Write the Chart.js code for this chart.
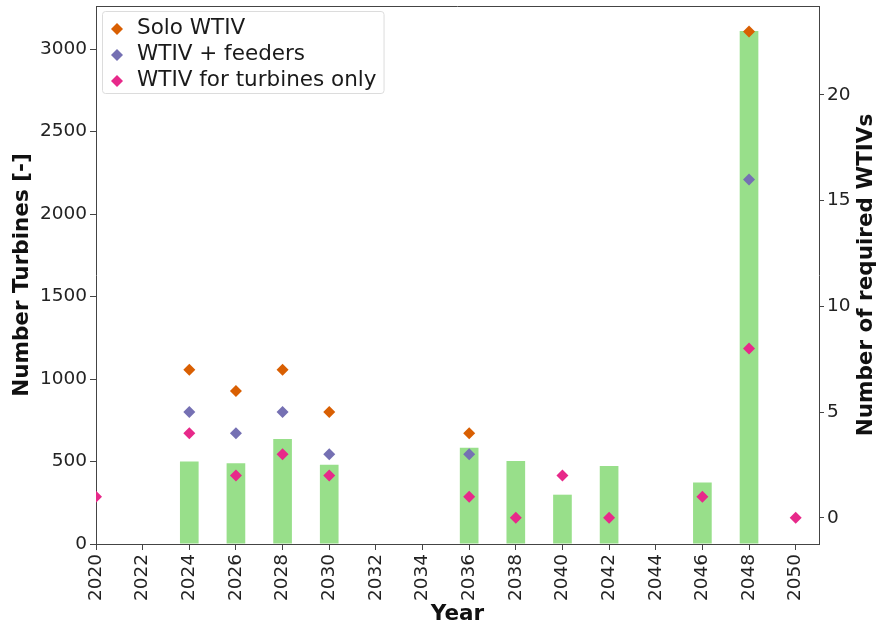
<!DOCTYPE html>
<html>
<head>
<meta charset="utf-8">
<script src="https://cdn.jsdelivr.net/npm/chart.js@4.4.1/dist/chart.umd.min.js"></script>
<style>
  html, body { margin: 0; padding: 0; background: #fff; }
  canvas { display: block; }
</style>
</head>
<body>
<canvas id="c" width="876" height="627"></canvas>
<script>
// Installed turbines per year (bars, left axis)
const barYears = [2024, 2026, 2028, 2030, 2036, 2038, 2040, 2042, 2046, 2048];
const turbines = [500, 490, 637, 481, 584, 503, 299, 473, 373, 3110];

// Required installation vessels per strategy (diamonds, right axis)
const soloYears = [2024, 2026, 2028, 2030, 2036, 2048];
const soloWtiv = [7, 6, 7, 5, 4, 23];
const feederYears = [2024, 2026, 2028, 2030, 2036, 2048];
const wtivFeeders = [5, 4, 5, 3, 3, 16];
const turbineOnlyYears = [2020, 2024, 2026, 2028, 2030, 2036, 2038, 2040, 2042, 2046, 2048, 2050];
const wtivTurbinesOnly = [1, 4, 2, 3, 2, 1, 0, 2, 0, 1, 8, 0];

// Tick labels
const yearTicks = [2020, 2022, 2024, 2026, 2028, 2030, 2032, 2034, 2036, 2038, 2040, 2042, 2044, 2046, 2048, 2050];
const turbineTicks = [0, 500, 1000, 1500, 2000, 2500, 3000];
const vesselTicks = [0, 5, 10, 15, 20];

const seriesNames = ['Solo WTIV', 'WTIV + feeders', 'WTIV for turbines only'];
const seriesColors = ['#d95f02', '#7570b3', '#e7298a'];
const barColor = '#98df8a';
const rightTitle = 'Number of required WTIVs';
const FONT = '"DejaVu Sans", "Liberation Sans", sans-serif';
const TICK_SIZE = 18.5;
const LABEL_SIZE = 21.5;

Chart.defaults.font.family = FONT;
Chart.defaults.font.size = TICK_SIZE;
Chart.defaults.color = '#222';

const pairs = (xs, ys) => xs.map((x, i) => ({ x: x, y: ys[i] }));

// Frame top edge, right-hand axis title and the in-plot legend
const decorations = {
  id: 'decorations',
  afterDraw(chart) {
    const { ctx, chartArea: a } = chart;
    ctx.save();
    ctx.strokeStyle = '#444';
    ctx.lineWidth = 1;
    ctx.beginPath();
    ctx.moveTo(a.left, a.top + 0.5);
    ctx.lineTo(a.right, a.top + 0.5);
    ctx.stroke();

    // axis title on the right, reading upward
    ctx.save();
    ctx.font = 'bold ' + LABEL_SIZE + 'px ' + FONT;
    ctx.fillStyle = '#111';
    ctx.translate(chart.width - 10, (a.top + a.bottom) / 2);
    ctx.rotate(-Math.PI / 2);
    ctx.textAlign = 'center';
    ctx.textBaseline = 'middle';
    ctx.fillText(rightTitle, 0, 0);
    ctx.restore();

    // legend box
    const scatterSets = chart.data.datasets.filter(d => d.type === 'scatter');
    ctx.font = LABEL_SIZE + 'px ' + FONT;
    const textW = Math.max(...scatterSets.map(d => ctx.measureText(d.label).width));
    const bx = a.left + 6, by = a.top + 5;
    const bw = 35 + textW + 7, bh = 82;
    ctx.beginPath();
    ctx.roundRect(bx + 0.5, by + 0.5, bw, bh, 3);
    ctx.fillStyle = 'rgba(255,255,255,0.85)';
    ctx.fill();
    ctx.strokeStyle = '#dcdcdc';
    ctx.stroke();

    scatterSets.forEach((d, i) => {
      const base = by + 22.5 + i * 26;
      const mx = bx + 15, my = base - 4.5, r = 6;
      ctx.beginPath();
      ctx.moveTo(mx - r, my);
      ctx.lineTo(mx, my - r);
      ctx.lineTo(mx + r, my);
      ctx.lineTo(mx, my + r);
      ctx.closePath();
      ctx.fillStyle = d.backgroundColor;
      ctx.fill();
      ctx.fillStyle = '#1a1a1a';
      ctx.textAlign = 'left';
      ctx.textBaseline = 'alphabetic';
      ctx.fillText(d.label, bx + 35, base);
    });
    ctx.restore();
  }
};

const tickSetter = list => scale => { scale.ticks = list.map(v => ({ value: v })); };

new Chart(document.getElementById('c'), {
  type: 'bar',
  data: {
    datasets: [
      {
        type: 'scatter', label: seriesNames[0], data: pairs(soloYears, soloWtiv),
        yAxisID: 'y2', pointStyle: 'rectRot', pointRadius: 6, borderWidth: 0,
        backgroundColor: seriesColors[0], borderColor: seriesColors[0], order: 1
      },
      {
        type: 'scatter', label: seriesNames[1], data: pairs(feederYears, wtivFeeders),
        yAxisID: 'y2', pointStyle: 'rectRot', pointRadius: 6, borderWidth: 0,
        backgroundColor: seriesColors[1], borderColor: seriesColors[1], order: 2
      },
      {
        type: 'scatter', label: seriesNames[2], data: pairs(turbineOnlyYears, wtivTurbinesOnly),
        yAxisID: 'y2', pointStyle: 'rectRot', pointRadius: 6, borderWidth: 0,
        backgroundColor: seriesColors[2], borderColor: seriesColors[2], order: 3
      },
      {
        type: 'bar', label: 'Turbines', data: pairs(barYears, turbines),
        yAxisID: 'y', backgroundColor: barColor, borderWidth: 0,
        categoryPercentage: 1.0, barPercentage: 0.4, order: 10
      }
    ]
  },
  options: {
    responsive: false,
    animation: false,
    devicePixelRatio: 1,
    layout: { padding: { top: 5, left: 0, right: 0, bottom: 0 } },
    plugins: { legend: { display: false }, tooltip: { enabled: false } },
    scales: {
      x: {
        type: 'linear', min: 2020, max: 2051, offset: false,
        afterBuildTicks: tickSetter(yearTicks),
        afterFit(s) { s.height = 83; s.paddingLeft = 0; s.paddingRight = 0; },
        ticks: { autoSkip: false, minRotation: 90, maxRotation: 90, padding: 4, color: '#222',
                 callback: v => String(v) },
        grid: { offset: false, drawOnChartArea: false, drawTicks: true, tickLength: 6, color: '#444' },
        border: { display: true, color: '#444', width: 1 },
        title: { display: true, text: 'Year', font: { size: LABEL_SIZE, weight: 'bold' }, color: '#111',
                 padding: { top: 0, bottom: 0 } }
      },
      y: {
        type: 'linear', position: 'left', min: 0, max: 3262,
        afterBuildTicks: tickSetter(turbineTicks),
        afterFit(s) { s.width = 96; s.paddingTop = 0; s.paddingBottom = 0; },
        ticks: { padding: 3, color: '#222', callback: v => String(v) },
        grid: { drawOnChartArea: false, drawTicks: true, tickLength: 6, color: '#444' },
        border: { display: true, color: '#444', width: 1 },
        title: { display: true, text: 'Number Turbines [-]', font: { size: LABEL_SIZE, weight: 'bold' }, color: '#111',
                 padding: { top: 10, bottom: 0 } }
      },
      y2: {
        type: 'linear', position: 'right', min: -1.24, max: 24.2,
        afterBuildTicks: tickSetter(vesselTicks),
        afterFit(s) { s.width = 57; s.paddingTop = 0; s.paddingBottom = 0; },
        ticks: { padding: 3, color: '#222', callback: v => String(v) },
        grid: { drawOnChartArea: false, drawTicks: true, tickLength: 5, color: '#444' },
        border: { display: true, color: '#444', width: 1 }
      }
    }
  },
  plugins: [decorations]
});
</script>
</body>
</html>
